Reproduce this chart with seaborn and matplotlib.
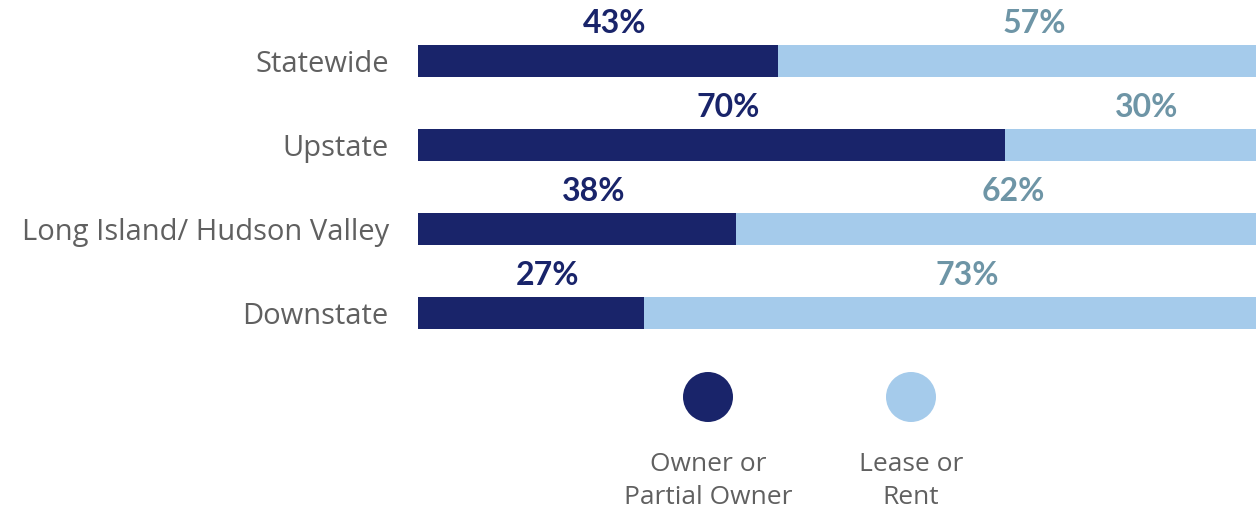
import matplotlib
matplotlib.use("Agg")
import matplotlib.pyplot as plt
import seaborn as sns
import pandas as pd
from matplotlib.patches import Circle

regions = ["Statewide", "Upstate", "Long Island/ Hudson Valley", "Downstate"]
owner = [43, 70, 38, 27]
lease = [57, 30, 62, 73]
legend_labels = ["Owner or\nPartial Owner", "Lease or\nRent"]

dark = "#19246a"
light = "#a5cbeb"
light_txt = "#6e95a6"
gray = "#606060"

sns.set_theme(style="white")
plt.rcParams['font.family'] = ['Open Sans', 'DejaVu Sans']

W, H = 1256, 512
fig = plt.figure(figsize=(W / 100, H / 100), dpi=100)

# bar axes: x from 418px to 1256px, category centers at 61..313 px
top_px, bot_px = 19, 355
ax = fig.add_axes([418 / W, 1 - bot_px / H, (W - 418) / W, (bot_px - top_px) / H])

df = pd.DataFrame({"region": regions, "owner": owner,
                   "total": [o + l for o, l in zip(owner, lease)]})
bw = 0.39
sns.barplot(data=df, x="total", y="region", color=light, width=bw,
            orient="h", ax=ax, saturation=1, linewidth=0)
sns.barplot(data=df, x="owner", y="region", color=dark, width=bw,
            orient="h", ax=ax, saturation=1, linewidth=0)

ax.set_xlim(0, 100)
ax.set_ylim(3.5, -0.5)
ax.set_xlabel("")
ax.set_ylabel("")
ax.set_xticks([])
ax.tick_params(axis="y", length=0, pad=21, labelsize=21, labelcolor=gray)
for s in ax.spines.values():
    s.set_visible(False)

off = 2.0
for i, (o, l) in enumerate(zip(owner, lease)):
    y = i - bw / 2 - 0.08
    ax.text(o / 2 + off, y, f"{o}%", ha="center", va="bottom",
            fontsize=23, fontweight="bold", color=dark, family=["Lato", "DejaVu Sans"])
    ax.text(o + l / 2 + off, y, f"{l}%", ha="center", va="bottom",
            fontsize=23, fontweight="bold", color=light_txt, family=["Lato", "DejaVu Sans"])

# legend overlay in pixel coordinates
lax = fig.add_axes([0, 0, 1, 1], zorder=-1)
lax.set_xlim(0, W)
lax.set_ylim(H, 0)
lax.axis("off")
for cx, col, lab in zip([708, 911], [dark, light], legend_labels):
    lax.add_patch(Circle((cx, 397), 25, color=col, lw=0))
    lax.text(cx, 481, lab, ha="center", va="center", fontsize=19,
             color=gray, linespacing=1.38)

fig.savefig("out.png", dpi=100)
